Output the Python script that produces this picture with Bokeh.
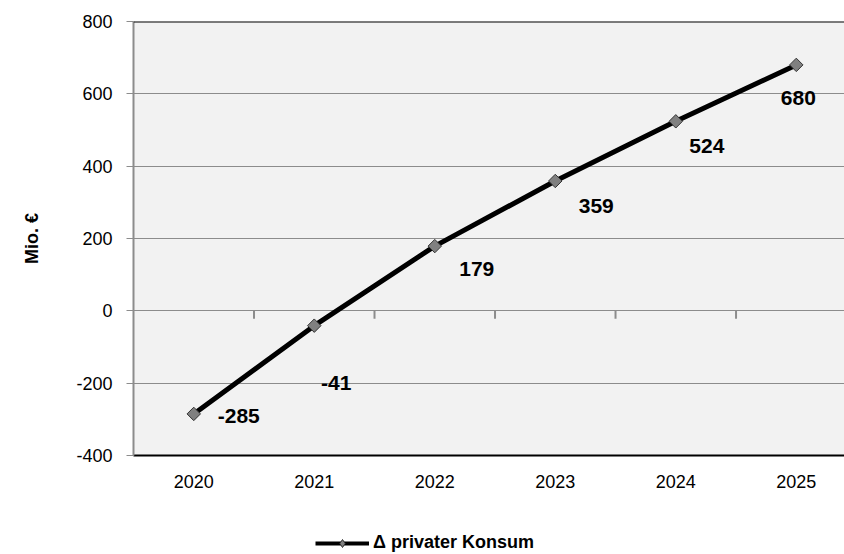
import math
from bokeh.plotting import figure
from bokeh.layouts import column
from bokeh.models import (ColumnDataSource, FixedTicker, Legend, LegendItem, Span)
from bokeh.core.properties import value
from bokeh.embed import file_html
from bokeh.resources import INLINE

years = ["2020", "2021", "2022", "2023", "2024", "2025"]
konsum = [-285, -41, 179, 359, 524, 680]
label_texts = [str(v) for v in konsum]
# label placement offsets (screen px) as in the reference
label_dx = [45, 22, 42, 41, 31, 2]
label_dy = [2, 57, 23, 25, 25, 33]
y_ticks = [-400, -200, 0, 200, 400, 600, 800]
series_name = "\u0394 privater Konsum"
y_title = "Mio. \u20ac"

FONT = "Liberation Sans"
idx = list(range(len(years)))

LINE_STYLE = dict(line_color="black", line_width=5)
MARK_COLORS = dict(fill_color="#808080", line_color="#333333", line_width=1)

src = ColumnDataSource(dict(x=idx, y=konsum, t=label_texts, dx=label_dx, dy=label_dy))

p = figure(width=844, height=500, output_backend="svg", toolbar_location=None,
           x_range=(-0.5, 5.40), y_range=(-400, 800),
           min_border_left=133, min_border_right=0, min_border_top=21, min_border_bottom=45)
p.background_fill_color = "#f2f2f2"
p.border_fill_color = "white"
p.outline_line_color = None

# grid
p.xgrid.grid_line_color = None
p.ygrid.grid_line_color = "#8c8c8c"
p.ygrid.grid_line_width = 1
p.ygrid.ticker = FixedTicker(ticks=y_ticks)

# y axis
p.yaxis.ticker = FixedTicker(ticks=y_ticks)
p.yaxis.major_label_overrides = {t: str(t) for t in y_ticks}
p.yaxis.axis_line_color = "#8c8c8c"
p.yaxis.axis_line_width = 2
p.yaxis.major_tick_line_color = "#8c8c8c"
p.yaxis.major_tick_out = 7
p.yaxis.major_tick_in = 0
p.yaxis.minor_tick_line_color = None
p.yaxis.major_label_text_font = FONT
p.yaxis.major_label_text_font_size = "18px"
p.yaxis.major_label_text_color = "black"
p.yaxis.major_label_standoff = 14
p.yaxis.axis_label = y_title
p.yaxis.axis_label_text_font = FONT
p.yaxis.axis_label_text_font_size = "18px"
p.yaxis.axis_label_text_font_style = "bold"
p.yaxis.axis_label_text_color = "black"
p.yaxis.axis_label_standoff = 31

# x axis
p.xaxis.ticker = FixedTicker(ticks=idx)
p.xaxis.major_label_overrides = {i: y for i, y in zip(idx, years)}
p.xaxis.axis_line_color = "black"
p.xaxis.axis_line_width = 2
p.xaxis.major_tick_line_color = None
p.xaxis.minor_tick_line_color = None
p.xaxis.major_label_text_font = FONT
p.xaxis.major_label_text_font_size = "18px"
p.xaxis.major_label_text_color = "black"
p.xaxis.major_label_standoff = 13

# top border
p.add_layout(Span(location=800, dimension="width", line_color="black", line_width=2))

# category boundary tick marks on the zero line
bounds = [i + 0.5 for i in idx[:-1]]
p.segment(x0=bounds, x1=bounds, y0=[0] * len(bounds), y1=[-22] * len(bounds),
          line_color="#8c8c8c", line_width=2)

p.line("x", "y", source=src, **LINE_STYLE)
p.scatter("x", "y", source=src, marker="square", angle=math.pi / 4, size=9.5, **MARK_COLORS)

p.text("x", "y", text="t", source=src, x_offset="dx", y_offset="dy",
       text_font=value(FONT), text_font_size="21px", text_font_style="bold",
       text_color="black", text_align="center", text_baseline="middle")

# legend strip below the chart (its renderers hold a point outside the view)
lf = figure(width=844, height=54, output_backend="svg", toolbar_location=None,
            x_range=(0, 1), y_range=(0, 1), x_axis_location=None, y_axis_location=None,
            min_border_left=0, min_border_right=0, min_border_top=0, min_border_bottom=0)
lf.outline_line_color = None
lf.background_fill_color = "white"
lf.border_fill_color = "white"
lf.xgrid.visible = False
lf.ygrid.visible = False
hidden = ColumnDataSource(dict(x=[-5, -4], y=[-5, -5]))
l_line = lf.line("x", "y", source=hidden, line_color="black", line_width=4)
l_mark = lf.scatter("x", "y", source=hidden, marker="diamond", size=14, **MARK_COLORS)
legend = Legend(items=[LegendItem(label=series_name, renderers=[l_line, l_mark])],
                location=(182, 1), orientation="horizontal",
                glyph_width=54, glyph_height=20, label_standoff=4,
                padding=0, margin=0, spacing=0,
                background_fill_alpha=0, border_line_color=None,
                label_text_font=FONT, label_text_font_size="18px",
                label_text_font_style="bold", label_text_color="black")
lf.add_layout(legend, "center")

open("out.html", "w").write(file_html(column(p, lf, spacing=0), INLINE))
